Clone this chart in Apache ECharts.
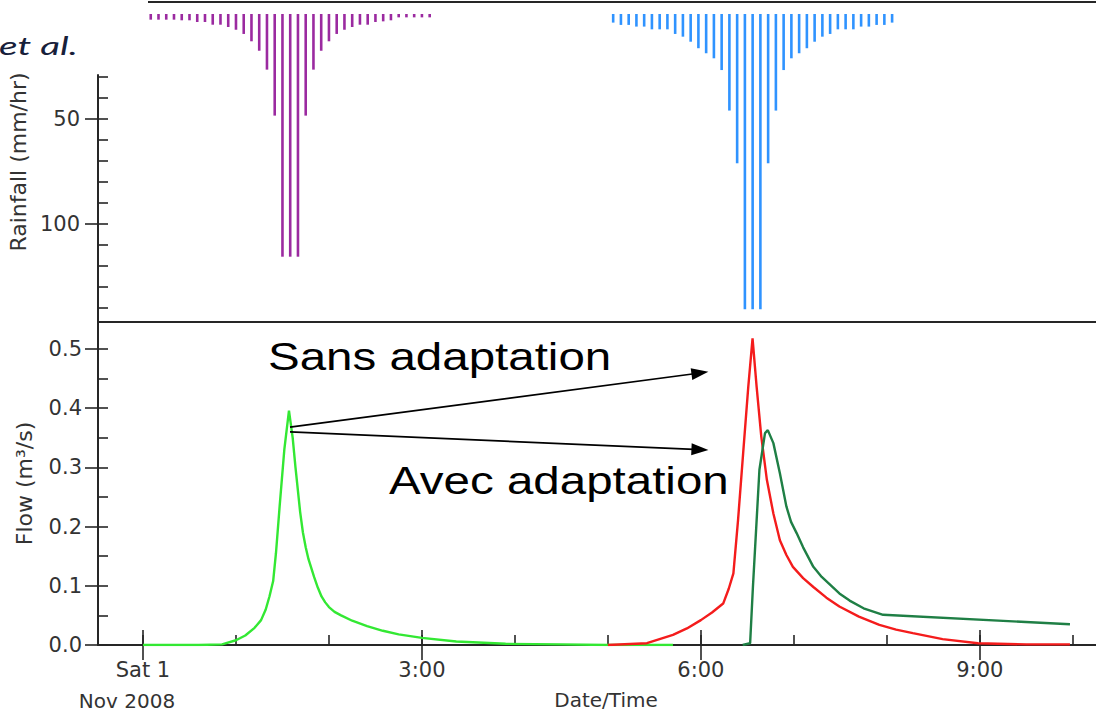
<!DOCTYPE html>
<html>
<head>
<meta charset="utf-8">
<script src="https://cdn.jsdelivr.net/npm/echarts@6/dist/echarts.min.js"></script>
<style>
  html, body { margin: 0; padding: 0; background: #ffffff; }
  #chart { width: 1096px; height: 714px; }
</style>
</head>
<body>
<div id="chart"></div>
<script>
// ---------------- DATA ----------------
// time axis in hours after Sat 1 Nov 2008 00:00
const timeMin = -0.484;
const timeMax = 10.25;
const hourTicks = [0, 1, 2, 3, 4, 5, 6, 7, 8, 9, 10];
const hourLabelValues = [0, 3, 6, 9];
const hourLabels = ['Sat 1', '3:00', '6:00', '9:00'];
const dateLabel = 'Nov 2008';
const xTitle = 'Date/Time';

// rainfall (mm/hr), 5-minute steps
const rainStep = 1 / 12;
const purpleStart = 1 / 12;
const purpleRain = [2.7, 2.7, 2.7, 2.7, 3.0, 3.0, 3.8, 3.8, 5.1, 5.1, 6.2, 7.5, 9.5, 13, 17.5, 26.5, 48.4,
  115.6, 115.6, 115.6, 48.4, 26.5, 17.5, 13, 9.5, 7.5, 6.2, 5.1, 5.1, 3.8, 3.5, 3.0, 1.6, 1.6, 1.6, 1.6, 1.6];
const blueStart = 5.057;
const blueRain = [4.1, 5.2, 5.2, 6.0, 6.0, 7.3, 7.3, 7.3, 9.5, 10.8, 13.2, 16.3, 18.7, 21.1, 26.7, 46, 71.1,
  140.6, 140.6, 140.6, 71.1, 46, 26.7, 21.1, 18.7, 16.3, 13.2, 10.8, 9.5, 7.3, 7.3, 7.3, 6.0, 6.0, 5.2, 5.2, 4.1];
const rainMax = 146.7;
const rainAxisStart = 29.05;
const rainMinorTicks = [30, 40, 50, 60, 70, 80, 90, 100, 110, 120, 130, 140];
const rainLabelValues = [50, 100];
const rainTitle = 'Rainfall (mm/hr)';

// flow (m3/s)
const flowMax = 0.5456;
const flowMinorTicks = [0, 0.05, 0.1, 0.15, 0.2, 0.25, 0.3, 0.35, 0.4, 0.45, 0.5];
const flowLabelValues = [0, 0.1, 0.2, 0.3, 0.4, 0.5];
const flowTitle = 'Flow (m³/s)';

const flowFirst = [[0, 0], [0.6, 0], [0.85, 0.001], [1.0, 0.008], [1.1, 0.016], [1.2, 0.029], [1.27, 0.042],
  [1.32, 0.06], [1.36, 0.082], [1.4, 0.108], [1.43, 0.155], [1.47, 0.235], [1.52, 0.33], [1.57, 0.396],
  [1.61, 0.35], [1.64, 0.30], [1.66, 0.27], [1.69, 0.225], [1.72, 0.19], [1.75, 0.165], [1.78, 0.145],
  [1.84, 0.115], [1.88, 0.097], [1.92, 0.082], [1.96, 0.072], [2.0, 0.064], [2.06, 0.056], [2.13, 0.05],
  [2.25, 0.041], [2.41, 0.032], [2.58, 0.024], [2.75, 0.018], [3.0, 0.012], [3.37, 0.006], [3.9, 0.002],
  [4.5, 0.001], [5.0, 0], [5.7, 0]];
const flowSans = [[5.0, 0], [5.42, 0.003], [5.7, 0.017], [5.85, 0.028], [6.0, 0.042], [6.12, 0.055],
  [6.24, 0.07], [6.3, 0.095], [6.35, 0.121], [6.40, 0.211], [6.455, 0.324], [6.51, 0.436], [6.556, 0.518],
  [6.6, 0.436], [6.65, 0.352], [6.71, 0.279], [6.78, 0.222], [6.85, 0.177], [6.92, 0.152], [6.99, 0.132],
  [7.1, 0.113], [7.21, 0.098], [7.35, 0.08], [7.49, 0.065], [7.7, 0.048], [7.92, 0.034], [8.1, 0.026],
  [8.28, 0.02], [8.6, 0.01], [8.98, 0.003], [9.5, 0.001], [9.97, 0.001]];
const flowAvec = [[6.45, 0], [6.53, 0.003], [6.56, 0.098], [6.6, 0.211], [6.63, 0.296], [6.69, 0.358],
  [6.72, 0.363], [6.78, 0.341], [6.85, 0.29], [6.92, 0.234], [6.97, 0.208], [7.03, 0.189], [7.1, 0.165],
  [7.21, 0.132], [7.3, 0.115], [7.49, 0.087], [7.6, 0.075], [7.75, 0.062], [7.96, 0.051], [9.97, 0.035]];

const labelSans = 'Sans adaptation';
const labelAvec = 'Avec adaptation';
const labelEtAl = 'et al.';
// arrows (time, flow)
const arrowSans = [[1.581, 0.368], [5.99, 0.4595]];
const arrowAvec = [[1.581, 0.360], [5.99, 0.330]];

// ---------------- CHART ----------------
const purpleData = purpleRain.map((v, i) => [purpleStart + i * rainStep, v]);
const blueData = blueRain.map((v, i) => [blueStart + i * rainStep, v]);

const FONT = '"DejaVu Sans", sans-serif';
const TXT = '#333333';
const AX = '#262626';

const G = { left: 98, right: 0, outerBoundsMode: 'none', containLabel: false };
const gridRain = Object.assign({ top: 14, height: 308 }, G);
const gridRainAxis = Object.assign({ top: 75, height: 247 }, G);
const gridFlow = Object.assign({ top: 322, height: 323 }, G);

function xBase(gi) {
  return { type: 'value', gridIndex: gi, min: timeMin, max: timeMax, splitLine: { show: false },
    axisLine: { show: false, onZero: false }, axisTick: { show: false }, axisLabel: { show: false } };
}

const chart = echarts.init(document.getElementById('chart'), null, { renderer: 'svg' });
chart.setOption({
  animation: false,
  backgroundColor: '#ffffff',
  grid: [gridRain, gridRainAxis, gridFlow, Object.assign({}, gridFlow), Object.assign({}, gridFlow)],
  xAxis: [
    Object.assign(xBase(0), { axisLine: { show: true, onZero: false, lineStyle: { color: AX, width: 2 } } }),
    xBase(1),
    Object.assign(xBase(2), {
      axisLine: { show: true, onZero: false, lineStyle: { color: AX, width: 2 } },
      axisTick: { show: true, inside: true, length: 10, customValues: hourTicks, lineStyle: { color: AX, width: 1.6 } }
    }),
    Object.assign(xBase(3), {
      name: xTitle, nameLocation: 'middle', nameGap: 43, nameMoveOverlap: false,
      nameTextStyle: { fontFamily: FONT, fontSize: 20, color: TXT, lineHeight: 24, padding: [0, 0, 0, 18] },
      axisTick: { show: true, inside: false, length: 15, customValues: hourLabelValues, lineStyle: { color: AX, width: 1.6 } },
      axisLabel: {
        show: true, customValues: hourLabelValues, margin: 9, fontFamily: FONT, fontSize: 21, color: TXT, lineHeight: 31,
        formatter: function (v) {
          const i = hourLabelValues.indexOf(Math.round(v));
          if (i === 0) return '{a|' + hourLabels[0] + '}\n{b|' + dateLabel + '}';
          return i >= 0 ? hourLabels[i] : '';
        },
        rich: { a: { fontFamily: FONT, fontSize: 21, color: TXT, lineHeight: 31 },
                b: { fontFamily: FONT, fontSize: 20, color: TXT, lineHeight: 31, padding: [0, 32, 0, 0] } }
      }
    }),
    Object.assign(xBase(4), {
      axisTick: { show: true, inside: true, length: 15, customValues: hourLabelValues, lineStyle: { color: AX, width: 1.6 } }
    })
  ],
  yAxis: [
    { type: 'value', gridIndex: 0, min: 0, max: rainMax, inverse: true, splitLine: { show: false },
      axisLine: { show: false, onZero: false },
      axisTick: { show: true, inside: false, length: 13, customValues: rainLabelValues, lineStyle: { color: AX, width: 1.6 } },
      axisLabel: { show: true, customValues: rainLabelValues, margin: 18, fontFamily: FONT, fontSize: 21, color: TXT },
      name: rainTitle, nameLocation: 'middle', nameGap: 73, nameRotate: 90,
      nameTextStyle: { fontFamily: FONT, fontSize: 22, color: TXT, verticalAlign: 'middle', padding: [0, 0, 0, 12] } },
    { type: 'value', gridIndex: 1, min: rainAxisStart, max: rainMax, inverse: true, splitLine: { show: false },
      axisLine: { show: true, onZero: false, lineStyle: { color: AX, width: 2 } },
      axisTick: { show: true, inside: true, length: 10, customValues: rainMinorTicks, lineStyle: { color: AX, width: 1.6 } },
      axisLabel: { show: false } },
    { type: 'value', gridIndex: 2, min: 0, max: flowMax, splitLine: { show: false },
      axisLine: { show: true, onZero: false, lineStyle: { color: AX, width: 2 } },
      axisTick: { show: true, inside: true, length: 10, customValues: flowMinorTicks, lineStyle: { color: AX, width: 1.6 } },
      axisLabel: { show: false } },
    { type: 'value', gridIndex: 3, min: 0, max: flowMax, splitLine: { show: false },
      axisLine: { show: false, onZero: false },
      axisTick: { show: true, inside: false, length: 13, customValues: flowLabelValues, lineStyle: { color: AX, width: 1.6 } },
      axisLabel: { show: true, customValues: flowLabelValues, margin: 16, fontFamily: FONT, fontSize: 21, color: TXT,
        formatter: function (v) { return Number(v).toFixed(1); } },
      name: flowTitle, nameLocation: 'middle', nameGap: 74, nameRotate: 90,
      nameTextStyle: { fontFamily: FONT, fontSize: 22, color: TXT, verticalAlign: 'middle' } },
    { type: 'value', gridIndex: 4, min: 0, max: flowMax, show: false, splitLine: { show: false },
      axisLine: { show: false, onZero: false } }
  ],
  series: [
    { type: 'bar', name: 'rain1', xAxisIndex: 0, yAxisIndex: 0, data: purpleData, barWidth: 2.6,
      itemStyle: { color: '#9b2aa0' }, silent: true },
    { type: 'bar', name: 'rain2', xAxisIndex: 0, yAxisIndex: 0, data: blueData, barWidth: 2.6, barGap: '-100%',
      itemStyle: { color: '#2f93ff' }, silent: true },
    { type: 'line', name: 'flow1', xAxisIndex: 2, yAxisIndex: 2, data: flowFirst, showSymbol: false, symbol: 'none',
      lineStyle: { color: '#33e833', width: 2.4 }, silent: true,
      markLine: { silent: true, animation: false, symbol: ['none', 'triangle'], symbolSize: [12, 17],
        lineStyle: { type: 'solid', color: '#000000', width: 1.7 }, label: { show: false },
        emphasis: { disabled: true },
        data: [[{ coord: arrowSans[0] }, { coord: arrowSans[1] }], [{ coord: arrowAvec[0] }, { coord: arrowAvec[1] }]] } },
    { type: 'line', name: 'sans', xAxisIndex: 2, yAxisIndex: 2, data: flowSans, showSymbol: false, symbol: 'none',
      lineStyle: { color: '#f41c1c', width: 2.4 }, silent: true },
    { type: 'line', name: 'avec', xAxisIndex: 2, yAxisIndex: 2, data: flowAvec, showSymbol: false, symbol: 'none',
      lineStyle: { color: '#1f7f45', width: 2.4 }, silent: true }
  ],
  graphic: [
    { type: 'line', shape: { x1: 148, y1: 2, x2: 1096, y2: 2 }, style: { stroke: AX, lineWidth: 2 }, silent: true },
    { type: 'text', x: -1, y: 45, scaleX: 1.55, silent: true,
      style: { text: labelEtAl, fontFamily: 'Lato, "Open Sans", sans-serif', fontStyle: 'italic', fontSize: 25,
        fill: '#17203a', align: 'left', verticalAlign: 'middle' } },
    { type: 'text', x: 268, y: 357, scaleX: 1.25, silent: true,
      style: { text: labelSans, fontFamily: '"Liberation Sans", Arial, sans-serif', fontSize: 38, fill: '#000000',
        align: 'left', verticalAlign: 'middle' } },
    { type: 'text', x: 389, y: 481, scaleX: 1.25, silent: true,
      style: { text: labelAvec, fontFamily: '"Liberation Sans", Arial, sans-serif', fontSize: 38, fill: '#000000',
        align: 'left', verticalAlign: 'middle' } }
  ]
});
</script>
</body>
</html>
